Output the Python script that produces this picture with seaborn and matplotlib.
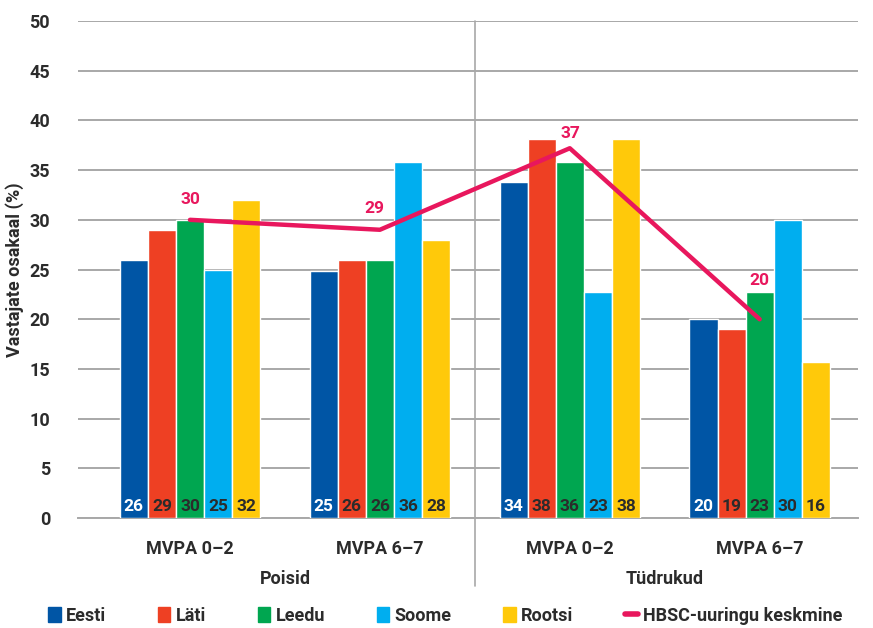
import matplotlib
matplotlib.use("Agg")
import matplotlib.pyplot as plt
import matplotlib.lines as mlines
import matplotlib.patches as mpatches
import seaborn as sns
import pandas as pd

# data
groups = ["Poisid MVPA 0–2", "Poisid MVPA 6–7", "Tüdrukud MVPA 0–2", "Tüdrukud MVPA 6–7"]
group_ticks = ["MVPA 0–2", "MVPA 6–7", "MVPA 0–2", "MVPA 6–7"]
countries = ["Eesti", "Läti", "Leedu", "Soome", "Rootsi"]
eesti = [26, 24.9, 33.8, 20]
lati = [29, 26, 38.1, 19]
leedu = [30, 26, 35.8, 22.7]
soome = [25, 35.8, 22.7, 30]
rootsi = [32, 28, 38.1, 15.7]
hbsc = [30, 29, 37.2, 20]
hbsc_name = "HBSC-uuringu keskmine"
sexes = ["Poisid", "Tüdrukud"]

colors = ["#0055A5", "#EE4023", "#00A650", "#00AEEF", "#FFC90A"]
line_color = "#E8175D"
text_color = "#2b2b2b"

sns.set_style("white")
plt.rcParams["font.family"] = ["Roboto", "DejaVu Sans"]
plt.rcParams["font.weight"] = "bold"

rows = []
for name, vals in zip(countries, [eesti, lati, leedu, soome, rootsi]):
    for g, v in zip(groups, vals):
        rows.append({"grupp": g, "riik": name, "väärtus": v})
df = pd.DataFrame(rows)

fig = plt.figure(figsize=(8.73, 6.28), dpi=100)
ax = fig.add_axes([0.0893, 0.175, 0.894, 0.7916])

sns.barplot(data=df, x="grupp", y="väärtus", hue="riik", hue_order=countries,
            palette=colors, width=0.74, gap=0, saturation=1, errorbar=None,
            legend=False, ax=ax, zorder=3)

# labels at the bottom of each bar
for i, cont in enumerate(ax.containers):
    tc = "white" if i == 0 else text_color
    for bar in cont:
        h = bar.get_height()
        ax.text(bar.get_x() + bar.get_width() / 2, 0.45, f"{round(h):d}",
                ha="center", va="bottom", color=tc, fontsize=12.5,
                fontweight="bold", zorder=5)

# HBSC average line
xs = list(range(len(groups)))
sns.lineplot(x=xs, y=hbsc, color=line_color, linewidth=3.2, ax=ax, zorder=4,
             solid_capstyle="round")
label_pos = [(0.0, 32.0), (-0.03, 31.1), (0.005, 38.7), (0.0, 23.9)]
for x, v, (dx, ty) in zip(xs, hbsc, label_pos):
    ax.text(x + dx, ty, f"{round(v):d}", ha="center", va="center",
            color=line_color, fontsize=12.5, fontweight="bold", zorder=5)

ax.set_ylim(0, 50)
ax.set_xlim(-0.59, 3.52)
ax.set_yticks(range(0, 51, 5))
ax.yaxis.grid(True, color="#a8a8a8", linewidth=1.4, zorder=0)
ax.set_axisbelow(True)
for s in ["left", "right", "top"]:
    ax.spines[s].set_visible(False)
ax.spines["bottom"].set_color("#a8a8a8")
ax.spines["bottom"].set_linewidth(1.4)

ax.set_xticks(xs)
ax.set_xticklabels(group_ticks)
ax.tick_params(axis="x", length=0, pad=16, labelsize=13, labelcolor=text_color)
ax.tick_params(axis="y", length=0, pad=20, labelsize=13, labelcolor=text_color)
for lbl in ax.get_xticklabels() + ax.get_yticklabels():
    lbl.set_fontweight("bold")
ax.set_xlabel("")
ax.set_ylabel("Vastajate osakaal (%)", fontsize=13, fontweight="bold",
              color=text_color, labelpad=4)

# separator between sexes
ax.axvline(1.5, ymin=-0.137, ymax=1, color="#a8a8a8", linewidth=1.2,
           clip_on=False, zorder=1)
for gx, s in zip([0.5, 2.5], sexes):
    ax.text(gx, -0.122, s, transform=ax.get_xaxis_transform(),
            ha="center", va="center", fontsize=13, fontweight="bold",
            color=text_color)

handles = [mpatches.Patch(color=c, label=n) for c, n in zip(colors, countries)]
handles.append(mlines.Line2D([], [], color=line_color, linewidth=4,
                             solid_capstyle="round", label=hbsc_name))
fig.legend(handles=handles, loc="center", bbox_to_anchor=(0.51, 0.019),
           ncol=6, frameon=False, handlelength=0.7,
           handleheight=0.9, handletextpad=0.3, columnspacing=2.85,
           labelcolor=text_color, prop={"weight": "bold", "size": 13})

fig.savefig("out.png", dpi=100)
